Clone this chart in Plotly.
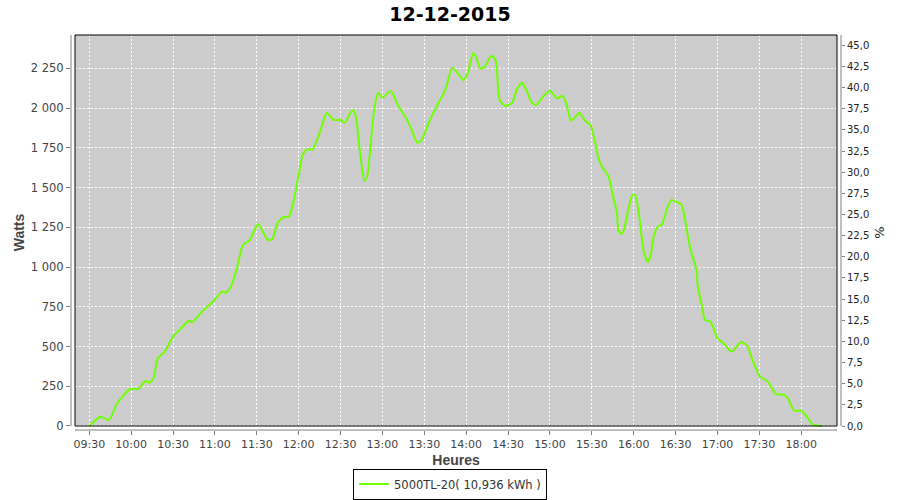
import plotly.graph_objects as go

DATE = "2015-12-12"
TITLE = "12-12-2015"
SERIES_NAME = "5000TL-20( 10,936 kWh )"

times = ["09:30", "09:38", "09:44", "09:50", "09:59", "10:05", "10:10", "10:13", "10:16", "10:19",
         "10:24", "10:30", "10:35", "10:41", "10:44", "10:50", "10:59", "11:05", "11:08", "11:12",
         "11:16", "11:20", "11:25", "11:29", "11:31", "11:38", "11:41", "11:45", "11:49", "11:53",
         "11:56", "12:00", "12:03", "12:06", "12:10", "12:14", "12:18", "12:20", "12:25", "12:30",
         "12:33", "12:37", "12:39", "12:41", "12:44", "12:47", "12:49", "12:51", "12:54", "12:57",
         "13:00", "13:06", "13:11", "13:17", "13:20", "13:25", "13:28", "13:34", "13:40", "13:45",
         "13:50", "13:53", "13:58", "14:01", "14:05", "14:07", "14:10", "14:13", "14:18", "14:21",
         "14:24", "14:28", "14:33", "14:36", "14:40", "14:44", "14:47", "14:50", "14:55", "15:00",
         "15:05", "15:09", "15:12", "15:15", "15:18", "15:21", "15:25", "15:29", "15:32", "15:35",
         "15:38", "15:42", "15:45", "15:48", "15:49", "15:51", "15:53", "15:56", "15:59", "16:01",
         "16:04", "16:07", "16:10", "16:12", "16:14", "16:17", "16:20", "16:24", "16:27", "16:31",
         "16:34", "16:36", "16:38", "16:41", "16:45", "16:46", "16:49", "16:51", "16:55", "17:00",
         "17:04", "17:10", "17:17", "17:21", "17:26", "17:30", "17:36", "17:42", "17:48", "17:51",
         "17:55", "18:00", "18:05", "18:08", "18:15"]

watts = [0, 58, 38, 143, 231, 233, 283, 272, 300, 426,
         467, 562, 608, 660, 654, 713, 786, 845, 838, 887,
         1002, 1138, 1170, 1245, 1270, 1170, 1174, 1279, 1313, 1317,
         1401, 1579, 1711, 1740, 1740, 1820, 1925, 1971, 1925, 1925,
         1908, 1971, 1988, 1946, 1715, 1543, 1568, 1715, 1988, 2096,
         2067, 2107, 2019, 1935, 1883, 1782, 1799, 1925, 2030, 2113,
         2254, 2229, 2176, 2218, 2344, 2323, 2250, 2256, 2329, 2302,
         2050, 2013, 2034, 2113, 2159, 2093, 2034, 2019, 2071, 2109,
         2061, 2076, 2019, 1921, 1942, 1971, 1921, 1893, 1799, 1673,
         1621, 1568, 1453, 1338, 1233, 1208, 1233, 1359, 1453, 1453,
         1317, 1107, 1033, 1065, 1181, 1254, 1264, 1369, 1422, 1407,
         1396, 1338, 1233, 1100, 981, 876, 750, 667, 656, 552,
         524, 467, 528, 509, 394, 315, 279, 201, 195, 164,
         96, 96, 48, 11, 0]

x_range = [f"{DATE} 09:16:53", f"{DATE} 18:28:29"]
y_range = [-25.2, 2459.4]
y2_range = [-0.473, 46.22]

x = [f"{DATE} {t}" for t in times]

GREEN = "#70FF00"
AXIS_GREY = "#808080"
TICK_FONT = "DejaVu Sans"
LABEL_FONT = "Liberation Sans"

fig = go.Figure()
fig.add_trace(go.Scatter(
    x=x, y=watts, mode="lines", name=SERIES_NAME,
    line=dict(color=GREEN, width=2, shape="spline", smoothing=0.6),
))
fig.add_trace(go.Scatter(
    x=[x[0]], y=[0], yaxis="y2", mode="markers", marker=dict(opacity=0),
    showlegend=False, hoverinfo="skip",
))

# plot area geometry (paper fractions of the axis domain)
L, R, T, B = 71, 841, 35, 430
W, H = R - L, B - T
px0, px1 = (75 - L) / W, (837 - L) / W
py0 = (B - 426) / H

shapes = [
    dict(type="rect", xref="paper", yref="paper", x0=px0, x1=px1, y0=py0, y1=1,
         fillcolor="#CCCCCC", line=dict(width=0), layer="below"),
    dict(type="rect", xref="paper", yref="paper", x0=px0, x1=px1, y0=py0, y1=1,
         line=dict(color="black", width=1), layer="above"),
    dict(type="line", xref="paper", yref="paper", x0=0, x1=0, y0=py0, y1=1,
         line=dict(color=AXIS_GREY, width=1)),
    dict(type="line", xref="paper", yref="paper", x0=1, x1=1, y0=py0, y1=1,
         line=dict(color=AXIS_GREY, width=1)),
    dict(type="line", xref="paper", yref="paper", x0=px0, x1=px1, y0=0, y1=0,
         line=dict(color=AXIS_GREY, width=1)),
]

fig.update_layout(
    width=900, height=500,
    margin=dict(l=L, r=900 - R, t=T, b=500 - B, pad=0, autoexpand=False),
    paper_bgcolor="white", plot_bgcolor="white",
    separators=", ",
    font=dict(family=TICK_FONT, color="#444444"),
    title=dict(text="<b>" + TITLE + "</b>", font=dict(family="DejaVu Sans", size=19, color="black"),
               x=0.5, xref="container", xanchor="center", y=1 - 14 / 500, yref="container",
               yanchor="middle", automargin=False),
    xaxis=dict(
        type="date", range=x_range, tick0=f"{DATE} 09:30", dtick=30 * 60 * 1000,
        tickformat="%H:%M", ticks="outside", ticklen=4, tickcolor=AXIS_GREY,
        showgrid=True, gridcolor="white", griddash="2px,2px", gridwidth=1,
        showline=False, zeroline=False, automargin=False,
        tickfont=dict(family=TICK_FONT, size=11, color="#444444"),
        title=dict(text="<b>Heures</b>", font=dict(family=LABEL_FONT, size=14, color="#444444"),
                   standoff=6),
    ),
    yaxis=dict(
        range=y_range, tick0=0, dtick=250, tickformat=",d",
        ticks="outside", ticklen=4, tickcolor=AXIS_GREY,
        showgrid=True, gridcolor="white", griddash="2px,2px", gridwidth=1,
        showline=False, zeroline=False, automargin=False,
        tickfont=dict(family=TICK_FONT, size=11.5, color="#444444"),
        title=dict(text="<b>Watts</b>", font=dict(family=LABEL_FONT, size=14, color="#444444"),
                   standoff=2),
    ),
    yaxis2=dict(
        overlaying="y", side="right", range=y2_range, tick0=0, dtick=2.5, tickformat=".1f",
        ticks="outside", ticklen=3, tickcolor=AXIS_GREY,
        showgrid=False, showline=False, zeroline=False, automargin=False,
        tickfont=dict(family=TICK_FONT, size=10, color="#222222"),
        title=dict(text="%", font=dict(family=TICK_FONT, size=13, color="#222222"), standoff=6),
    ),
    shapes=shapes,
    legend=dict(
        orientation="h", xref="container", x=0.5, xanchor="center",
        yref="container", y=0.032, yanchor="middle",
        bordercolor="black", borderwidth=1, bgcolor="white",
        font=dict(family=TICK_FONT, size=11.5, color="#333333"), itemwidth=30,
    ),
    showlegend=True,
)

fig.write_html("out.html", config={"displayModeBar": False},
               post_script="document.body.style.margin='0';")
